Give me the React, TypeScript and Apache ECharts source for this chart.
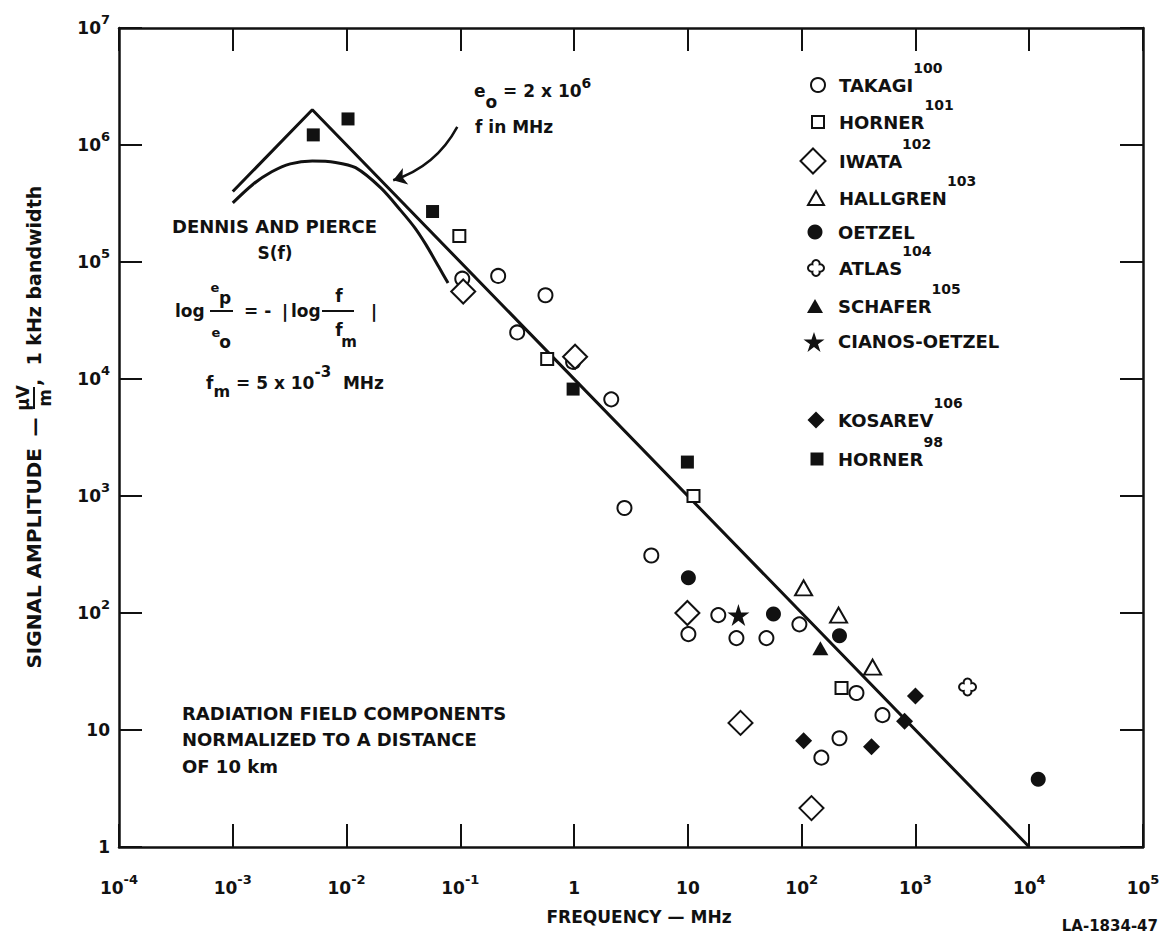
import React, { useEffect, useRef } from 'react';
import * as echarts from 'echarts';

const FONT = '"DejaVu Sans", "Liberation Sans", Arial, sans-serif';
const INK = '#111111';

// ---- data: [frequency (MHz), signal amplitude (uV/m, 1 kHz bandwidth)] ----
const takagi = [
  [0.104, 7.2e4], [0.215, 7.6e4], [0.56, 5.2e4], [0.316, 2.5e4], [0.98, 1.4e4],
  [2.12, 6.7e3], [2.77, 790], [4.77, 310], [18.5, 96], [10.1, 66], [26.7, 61],
  [49, 61], [95.5, 80], [303, 20.7], [513, 13.4], [215, 8.5], [149, 5.8],
];
const horner101 = [[0.098, 1.67e5], [0.58, 1.48e4], [11.2, 1.0e3], [224, 22.9]];
const iwata = [[0.106, 5.6e4], [1.02, 1.55e4], [9.9, 100], [29, 11.5], [122, 2.15]];
const hallgren = [[104, 164], [211, 96], [420, 34.5]];
const oetzel = [[10.1, 200], [56.5, 98], [215, 64], [1.2e4, 3.8]];
const atlas = [[2870, 23.3]];
const schafer = [[146, 50]];
const cianosOetzel = [[27.8, 96]];
const kosarev = [[104, 8.1], [411, 7.2], [802, 11.9], [1000, 19.5]];
const horner98 = [[5.1e-3, 1.22e6], [1.03e-2, 1.67e6], [5.7e-2, 2.7e5], [0.98, 8.2e3], [9.9, 1.95e3]];

// e0 = 2 x 10^6 straight-line model and Dennis & Pierce S(f)
const eoLine = [[1e-3, 4e5], [5e-3, 2e6], [1e4, 1]];
const dennisPierce = [
  [1.0e-3, 3.2e5], [1.5e-3, 4.6e5], [2.2e-3, 5.9e5], [3.2e-3, 6.9e5], [5.0e-3, 7.3e5],
  [8.0e-3, 7.1e5], [1.2e-2, 6.4e5], [2.0e-2, 4.3e5], [3.0e-2, 2.75e5], [4.0e-2, 1.95e5],
  [5.0e-2, 1.4e5], [6.5e-2, 9.0e4], [7.8e-2, 6.6e4],
];
const arrowPath = [[0.094, 1.43e6], [0.0257, 5.0e5]];

// legend
const seriesNames = ['TAKAGI', 'HORNER 101', 'IWATA', 'HALLGREN', 'OETZEL', 'ATLAS', 'SCHAFER', 'CIANOS-OETZEL', 'KOSAREV', 'HORNER 98'];
const legendLabels = ['TAKAGI', 'HORNER', 'IWATA', 'HALLGREN', 'OETZEL', 'ATLAS', 'SCHAFER', 'CIANOS-OETZEL', 'KOSAREV', 'HORNER'];
const legendRefs = ['100', '101', '102', '103', '', '104', '105', '', '106', '98'];

const STAR = 'path://M50,0 L62,36 L100,36 L69,58 L81,95 L50,72 L19,95 L31,58 L0,36 L38,36 Z';
const QUATREFOIL = 'path://M6.1,6.1 A6,6 0 1 1 17.9,6.1 A6,6 0 1 1 17.9,17.9 A6,6 0 1 1 6.1,17.9 A6,6 0 1 1 6.1,6.1 Z';

const OPEN = { color: '#ffffff', borderColor: INK, borderWidth: 2, opacity: 1 };
const FILLED = { color: INK, borderColor: INK, borderWidth: 0, opacity: 1 };

const seriesData = [takagi, horner101, iwata, hallgren, oetzel, atlas, schafer, cianosOetzel, kosarev, horner98];
const seriesLook: any[] = [
  { symbol: 'circle', size: 14, style: OPEN },
  { symbol: 'rect', size: 12, style: OPEN },
  { symbol: 'diamond', size: 24, style: OPEN },
  { symbol: 'triangle', size: [17, 15], style: OPEN },
  { symbol: 'circle', size: 15, style: FILLED },
  { symbol: QUATREFOIL, size: 17, style: OPEN },
  { symbol: 'triangle', size: [16, 14], style: FILLED },
  { symbol: STAR, size: 22, style: FILLED },
  { symbol: 'diamond', size: 17, style: FILLED },
  { symbol: 'rect', size: 13, style: FILLED },
];
const legendLook = [
  { cx: 817, cy: 84, w: 14, h: 14 },
  { cx: 817, cy: 121, w: 12, h: 12 },
  { cx: 812, cy: 160, w: 25, h: 25 },
  { cx: 815, cy: 197, w: 16, h: 14 },
  { cx: 815, cy: 231, w: 15, h: 15 },
  { cx: 815, cy: 267, w: 16, h: 16 },
  { cx: 815, cy: 305, w: 16, h: 14 },
  { cx: 814, cy: 340, w: 21, h: 21 },
  { cx: 816, cy: 419, w: 17, h: 17 },
  { cx: 817, cy: 458, w: 13, h: 13 },
];
const LEGEND_TEXT_X = 838;

const tok = (size: number, extra: any = {}) => ({
  fontFamily: FONT, fontWeight: 'bold', fontSize: size, color: INK, fill: INK, ...extra,
});

const powLabel = (v: number) => {
  const e = Math.round(Math.log10(v));
  if (e === 0) return '{n|1}';
  if (e === 1) return '{n|10}';
  return `{n|10}{s|${e}}`;
};

const axisRich = {
  n: tok(17, { lineHeight: 26 }),
  s: tok(13, { height: 8, lineHeight: 8, verticalAlign: 'top' }),
};

const axisCommon = (extra: any) => ({
  type: 'log',
  logBase: 10,
  axisLine: { show: true, onZero: false, lineStyle: { color: INK, width: 2.5 } },
  axisTick: { show: true, inside: true, length: 23, lineStyle: { color: INK, width: 2 } },
  minorTick: { show: false },
  splitLine: { show: false },
  minorSplitLine: { show: false },
  ...extra,
});

const text = (x: number, y: number, str: string, size: number, align = 'left', extra: any = {}) => ({
  type: 'text',
  x, y, silent: true,
  style: {
    text: str, fill: INK, fontFamily: FONT, fontWeight: 'bold', fontSize: size,
    textAlign: align, textVerticalAlign: 'middle', align, verticalAlign: 'middle', ...extra,
  },
});

const line = (x1: number, y1: number, x2: number, y2: number) => ({
  type: 'line', silent: true,
  shape: { x1, y1, x2, y2 },
  style: { stroke: INK, lineWidth: 2 },
});

export default function App() {
  const ref = useRef<HTMLDivElement>(null);
  useEffect(() => {
    const chart = echarts.init(ref.current!, null, { renderer: 'svg' });

    const scatter = seriesData.map((d, i) => ({
      name: seriesNames[i],
      type: 'scatter',
      data: d,
      symbol: seriesLook[i].symbol,
      symbolSize: seriesLook[i].size,
      itemStyle: seriesLook[i].style,
      z: 4,
      silent: true,
    }));

    const legends = seriesNames.map((name, i) => {
      const L = legendLook[i];
      const gap = Math.max(1, LEGEND_TEXT_X - (L.cx + L.w / 2 + 5));
      const hasRef = !!legendRefs[i];
      return {
        data: [name],
        orient: 'vertical',
        left: L.cx - L.w / 2,
        top: L.cy - (hasRef ? 23 : 8),
        padding: 0,
        itemWidth: L.w,
        itemHeight: L.h,
        selectedMode: false,
        formatter: () => `{g| }{n|${legendLabels[i]}}` + (hasRef ? `{s|${legendRefs[i]}}` : ''),
        textStyle: {
          ...tok(18),
          rich: {
            g: tok(10, { width: gap }),
            n: tok(18, { lineHeight: 36 }),
            s: tok(14, { height: 2, lineHeight: 2, verticalAlign: 'top' }),
          },
        },
      };
    });

    const eqRich = {
      n: tok(17, { lineHeight: 30 }),
      b: tok(17, { height: 8, lineHeight: 8, verticalAlign: 'bottom' }),
      bm: tok(16, { height: 14, lineHeight: 14, verticalAlign: 'bottom' }),
      s: tok(14, { height: 14, lineHeight: 14, verticalAlign: 'top' }),
      s2: tok(15, { height: 8, lineHeight: 8, verticalAlign: 'top' }),
    };

    const graphic: any[] = [
      // y axis title (rotated)
      {
        type: 'group', x: 34, y: 398, rotation: Math.PI / 2, silent: true,
        children: [
          text(-50, 0, 'SIGNAL AMPLITUDE', 20, 'right'),
          text(-29, 0, '—', 19, 'center'),
          text(0, -11, 'μV', 17, 'center'),
          line(-11, 0, 11, 0),
          text(0, 11, 'm', 17, 'center'),
          text(12, 0, ',  1 kHz bandwidth', 19, 'left'),
        ],
      },
      // e0 annotation
      text(474, 91, '{n|e}{b|o}{n| = 2 x 10}{s|6}', 17, 'left', { rich: eqRich }),
      text(475, 127, 'f in MHz', 17, 'left'),
      // Dennis and Pierce
      text(172, 226, 'DENNIS AND PIERCE', 18, 'left'),
      text(275, 253, 'S(f)', 17, 'center'),
      text(175, 311, 'log', 17, 'left'),
      text(215, 287, 'e', 13, 'center'),
      text(225, 298, 'p', 17, 'center'),
      line(210, 311, 233, 311),
      text(216, 332, 'e', 13, 'center'),
      text(225, 342, 'o', 17, 'center'),
      text(244, 311, '= -', 17, 'left'),
      text(285, 311, '|', 18, 'center'),
      text(291, 311, 'log', 17, 'left'),
      text(339, 296, 'f', 17, 'center'),
      line(322, 311, 354, 311),
      text(339, 330, 'f', 17, 'center'),
      text(349, 342, 'm', 15, 'center'),
      text(374, 311, '|', 18, 'center'),
      text(206, 383, '{n|f}{bm|m}{n| = 5 x 10}{s2|-3}{n|  MHz}', 17, 'left', { rich: eqRich }),
      // note
      text(182, 713, 'RADIATION FIELD COMPONENTS', 18, 'left'),
      text(182, 739, 'NORMALIZED TO A DISTANCE', 18, 'left'),
      text(182, 766, 'OF 10 km', 18, 'left'),
      // figure id
      text(1158, 926, 'LA-1834-47', 15, 'right'),
    ];

    const option: any = {
      animation: false,
      backgroundColor: '#ffffff',
      grid: { left: 119, right: 22, top: 28, bottom: 90, containLabel: false, outerBoundsMode: 'none' },
      xAxis: [
        axisCommon({
          position: 'bottom', min: 1e-4, max: 1e5, splitNumber: 9,
          axisLabel: { margin: 28, formatter: powLabel, rich: axisRich, ...tok(17) },
          name: 'FREQUENCY — MHz', nameLocation: 'middle', nameGap: 61,
          nameTextStyle: tok(17, { padding: [0, 0, 0, 16] }),
        }),
        axisCommon({ position: 'top', min: 1e-4, max: 1e5, splitNumber: 9, axisLabel: { show: false } }),
      ],
      yAxis: [
        axisCommon({
          position: 'left', min: 1, max: 1e7, splitNumber: 7,
          axisLabel: { margin: 9, formatter: powLabel, rich: axisRich, ...tok(17) },
        }),
        axisCommon({ position: 'right', min: 1, max: 1e7, splitNumber: 7, axisLabel: { show: false } }),
      ],
      legend: legends,
      graphic,
      series: [
        {
          name: 'e0 = 2 x 10^6', type: 'line', data: eoLine, symbol: 'none', silent: true, z: 2,
          lineStyle: { color: INK, width: 3 },
        },
        {
          name: 'Dennis and Pierce S(f)', type: 'line', data: dennisPierce, symbol: 'none', smooth: 0.3,
          silent: true, z: 2, lineStyle: { color: INK, width: 3 },
        },
        {
          name: 'arrow', type: 'lines', coordinateSystem: 'cartesian2d', silent: true, z: 3,
          symbol: ['none', 'arrow'], symbolSize: 13,
          lineStyle: { color: INK, width: 2.5, curveness: 0.2, opacity: 1 },
          data: [{ coords: arrowPath }],
        },
        ...scatter,
      ],
    };

    chart.setOption(option);
    return () => chart.dispose();
  }, []);

  return (
    <div
      ref={ref}
      style={{ position: 'absolute', left: 0, top: 0, width: 1165, height: 937, background: '#fff' }}
    />
  );
}
